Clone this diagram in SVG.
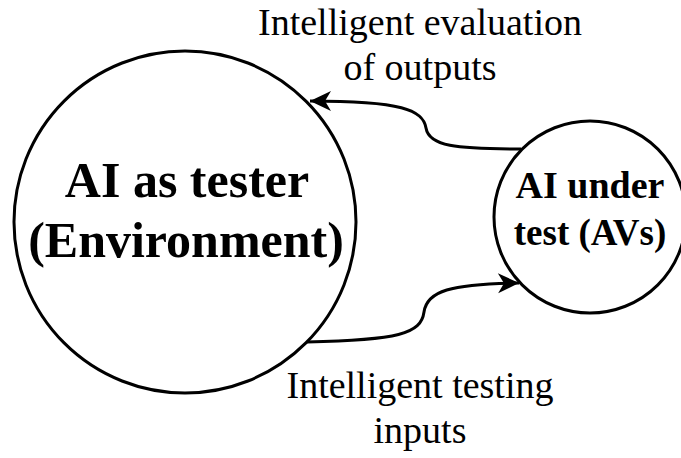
<svg xmlns="http://www.w3.org/2000/svg" width="681" height="458" viewBox="0 0 681 458">
  <style>
    .node { fill: #ffffff; stroke: #000000; stroke-width: 3; }
    .edge { fill: none; stroke: #000000; stroke-width: 3; }
    text { fill: #000000; text-anchor: middle; }
    .bold { font-family: 'Liberation Serif', 'Times New Roman', Times, serif; font-weight: bold; }
    .label { font-family: 'Liberation Serif', 'Times New Roman', Times, serif; font-size: 38px; }
  </style>
  <defs>
    <marker id="arrow" markerUnits="userSpaceOnUse" markerWidth="24" markerHeight="24" viewBox="-22 -12 24 24" refX="0" refY="0" orient="auto">
      <path d="M0,0 L-21,-10 L-15,0 L-21,10 Z" fill="#000000"/>
    </marker>
  </defs>
  <rect width="681" height="458" fill="#ffffff"/>

  <g id="node-tester">
    <circle class="node" cx="185" cy="222" r="171"/>
    <text class="bold" x="187" y="197" font-size="50">AI as tester</text>
    <text class="bold" x="186" y="257" font-size="50">(Environment)</text>
  </g>

  <g id="node-under-test">
    <circle class="node" cx="590" cy="217" r="96"/>
    <text class="bold" x="590" y="198" font-size="38">AI under</text>
    <text class="bold" x="590" y="245" font-size="37">test (AVs)</text>
  </g>

  <g id="connectors">
    <path class="edge" d="M521,149 C455,149 429,146 426,128 C423,110 402,101 310,101" marker-end="url(#arrow)"/>
    <path class="edge" d="M307,342 C398,340 421,334 424,312 C427,291 450,284 519,283" marker-end="url(#arrow)"/>
  </g>

  <g id="labels">
    <text class="label" x="420" y="35">Intelligent evaluation</text>
    <text class="label" x="420" y="80">of outputs</text>
    <text class="label" x="420" y="398">Intelligent testing</text>
    <text class="label" x="420" y="443">inputs</text>
  </g>
</svg>
